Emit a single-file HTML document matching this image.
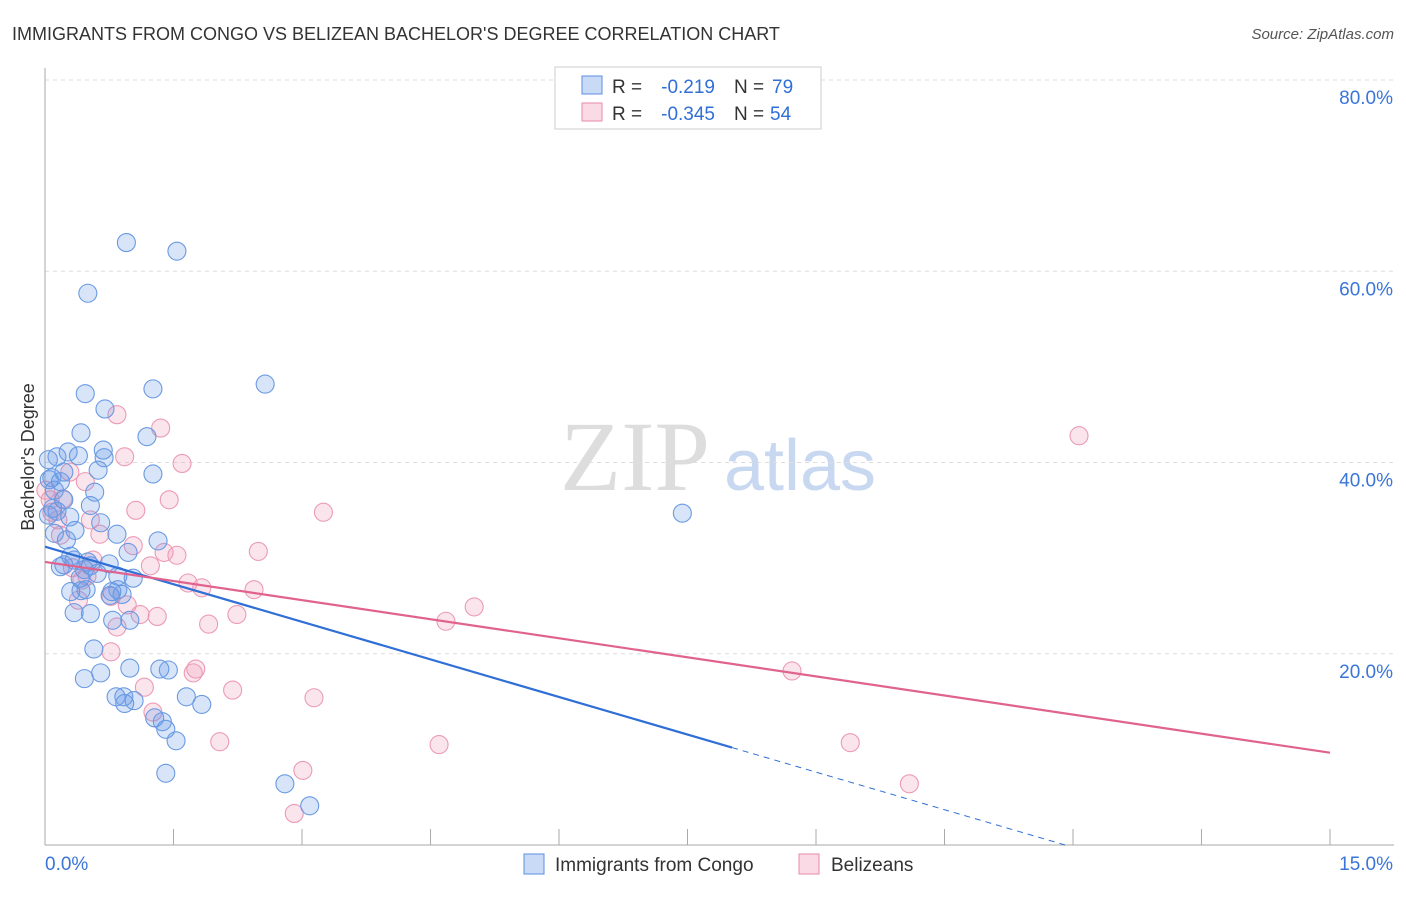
<!DOCTYPE html>
<html><head><meta charset="utf-8"><style>
body{margin:0;background:#fff;font-family:"Liberation Sans",sans-serif;}
</style></head><body>
<svg width="1406" height="892" xmlns="http://www.w3.org/2000/svg" font-family="Liberation Sans, sans-serif">
<text x="12" y="40" font-size="18" fill="#333">IMMIGRANTS FROM CONGO VS BELIZEAN BACHELOR'S DEGREE CORRELATION CHART</text>
<text x="1394" y="39" font-size="15" fill="#555" text-anchor="end" font-style="italic">Source: ZipAtlas.com</text>
<g>
<text x="635" y="490" font-size="100" fill="#ddd" font-family="Liberation Serif, serif" text-anchor="middle">ZIP</text>
<text x="800" y="490" font-size="72" fill="#c8d8f0" text-anchor="middle">atlas</text>
</g>
<g id="grid"></g>
<g id="axes"></g>
<g id="pts"></g>
<g id="lines"></g>
<text transform="translate(34,457) rotate(-90)" font-size="18" fill="#333" text-anchor="middle">Bachelor's Degree</text>
<g>
<rect x="555" y="67" width="266" height="62" fill="#fff" stroke="#ccc"/>
<rect x="582" y="76" width="20" height="18" fill="rgba(100,150,230,0.35)" stroke="#5b8fe0"/>
<rect x="582" y="103" width="20" height="18" fill="rgba(240,150,180,0.35)" stroke="#e88aa8"/>
<text x="612" y="93" font-size="19" fill="#333">R =</text>
<text x="715" y="93" font-size="19" fill="#2f6fd6" text-anchor="end">-0.219</text>
<text x="734" y="93" font-size="19" fill="#333">N =</text>
<text x="772" y="93" font-size="19" fill="#2f6fd6">79</text>
<text x="612" y="120" font-size="19" fill="#333">R =</text>
<text x="715" y="120" font-size="19" fill="#2f6fd6" text-anchor="end">-0.345</text>
<text x="734" y="120" font-size="19" fill="#333">N =</text>
<text x="770" y="120" font-size="19" fill="#2f6fd6">54</text>
</g>
<g>
<rect x="524" y="854" width="20" height="20" fill="rgba(100,150,230,0.35)" stroke="#5b8fe0"/>
<text x="555" y="871" font-size="19" fill="#333">Immigrants from Congo</text>
<rect x="799" y="854" width="20" height="20" fill="rgba(240,150,180,0.35)" stroke="#e88aa8"/>
<text x="831" y="871" font-size="19" fill="#333">Belizeans</text>
</g>
</svg>
<script>
const blueX=[], blueY=[], pinkX=[], pinkY=[];
const bluePx=[[126,243],[177,251],[88,293],[265,384],[153,389],[85,394],[105,409],[147,437],[81,433],[103,450],[68,452],[57,457],[48,460],[78,456],[104,458],[98,470],[64,472],[153,474],[49,480],[95,492],[64,500],[90,506],[53,508],[57,511],[48,515],[101,523],[75,530],[54,533],[117,534],[66,540],[158,541],[128,552],[71,556],[74,560],[60,567],[109,564],[90,566],[84,570],[97,573],[80,578],[118,576],[133,578],[71,592],[86,590],[112,592],[81,591],[122,594],[74,613],[90,614],[113,620],[130,620],[94,649],[130,668],[101,673],[160,669],[168,670],[84,679],[116,697],[125,703],[124,697],[134,701],[186,697],[202,704],[155,718],[162,722],[166,729],[176,741],[166,773],[285,784],[310,806],[682,513],[54,490],[110,595],[60,482],[52,478],[70,517],[88,562],[64,565],[118,590]];
const pinkPx=[[117,415],[161,428],[1079,436],[125,457],[182,463],[70,472],[85,482],[63,499],[169,500],[136,510],[323,512],[58,520],[52,512],[100,534],[133,546],[258,551],[164,552],[177,555],[93,560],[150,566],[72,568],[87,576],[188,583],[202,588],[254,590],[111,596],[127,605],[474,607],[157,616],[140,615],[237,615],[446,621],[209,624],[117,627],[111,652],[196,669],[193,673],[792,671],[144,687],[233,690],[314,698],[153,712],[220,742],[439,745],[850,743],[303,770],[909,784],[294,813],[60,535],[78,600],[82,580],[46,490],[50,500],[90,520]];
// values (converted to data units: x in %, y in %)
bluePx.forEach(p=>{blueX.push(+((p[0]-45)/1285*15).toFixed(2));blueY.push(+((845-p[1])/191.25*20).toFixed(1));});
pinkPx.forEach(p=>{pinkX.push(+((p[0]-45)/1285*15).toFixed(2));pinkY.push(+((845-p[1])/191.25*20).toFixed(1));});
const blueTrend=[31.2,-2.62], pinkTrend=[29.6,-1.33];
const yTicks=[20,40,60,80], yTickLabels=["20.0%","40.0%","60.0%","80.0%"];
const xTicks=[0,1.5,3,4.5,6,7.5,9,10.5,12,13.5,15];
const sx=v=>45+v/15*1285, sy=v=>845-v/20*191.25;
const NS="http://www.w3.org/2000/svg";
function mk(tag,attrs,parent){const e=document.createElementNS(NS,tag);for(const k in attrs)e.setAttribute(k,attrs[k]);document.getElementById(parent).appendChild(e);return e;}
yTicks.forEach((t,i)=>{
 const g=mk('line',{x1:45,x2:1394,y1:sy(t),y2:sy(t),stroke:'#ddd','stroke-dasharray':'4,4'},'grid');
 
 
 const l=mk('text',{x:1393,y:sy(t)+24,'font-size':19,fill:'#3a75d8','text-anchor':'end'},'grid');
 l.textContent=yTickLabels[i];
 
 
});
const ya=mk('line',{x1:45,x2:45,y1:68,y2:845,stroke:'#aaa'},'axes');


const xa=mk('line',{x1:45,x2:1394,y1:845,y2:845,stroke:'#aaa'},'axes');


xTicks.forEach(t=>{const k=mk('line',{x1:sx(t),x2:sx(t),y1:829,y2:845,stroke:'#aaa'},'axes');
 
 });
const x0=mk('text',{x:45,y:870,'font-size':19,fill:'#3a75d8'},'axes');x0.textContent='0.0%';


const x1=mk('text',{x:1393,y:870,'font-size':19,fill:'#3a75d8','text-anchor':'end'},'axes');x1.textContent='15.0%';


pinkX.forEach((x,i)=>{const c=mk('circle',{cx:sx(x),cy:sy(pinkY[i]),r:9,fill:'rgba(240,150,180,0.25)',stroke:'#ec9ab5','stroke-width':1.1},'pts');
 
 });
blueX.forEach((x,i)=>{const c=mk('circle',{cx:sx(x),cy:sy(blueY[i]),r:9,fill:'rgba(100,150,230,0.25)',stroke:'#6a9ae2','stroke-width':1.1},'pts');
 
 });
const bf=x=>blueTrend[0]+blueTrend[1]*x, pf=x=>pinkTrend[0]+pinkTrend[1]*x;
const bs=mk('line',{x1:sx(0),y1:sy(bf(0)),x2:sx(8.02),y2:sy(bf(8.02)),stroke:'#2f6fd6','stroke-width':2.2},'lines');


const xe=-blueTrend[0]/blueTrend[1];
const bd=mk('line',{x1:sx(8.02),y1:sy(bf(8.02)),x2:sx(xe),y2:sy(0),stroke:'#2f6fd6','stroke-width':1,'stroke-dasharray':'6,5'},'lines');


const pl=mk('line',{x1:sx(0),y1:sy(pf(0)),x2:sx(15),y2:sy(pf(15)),stroke:'#e0628e','stroke-width':2.2},'lines');


</script>
</body></html>
